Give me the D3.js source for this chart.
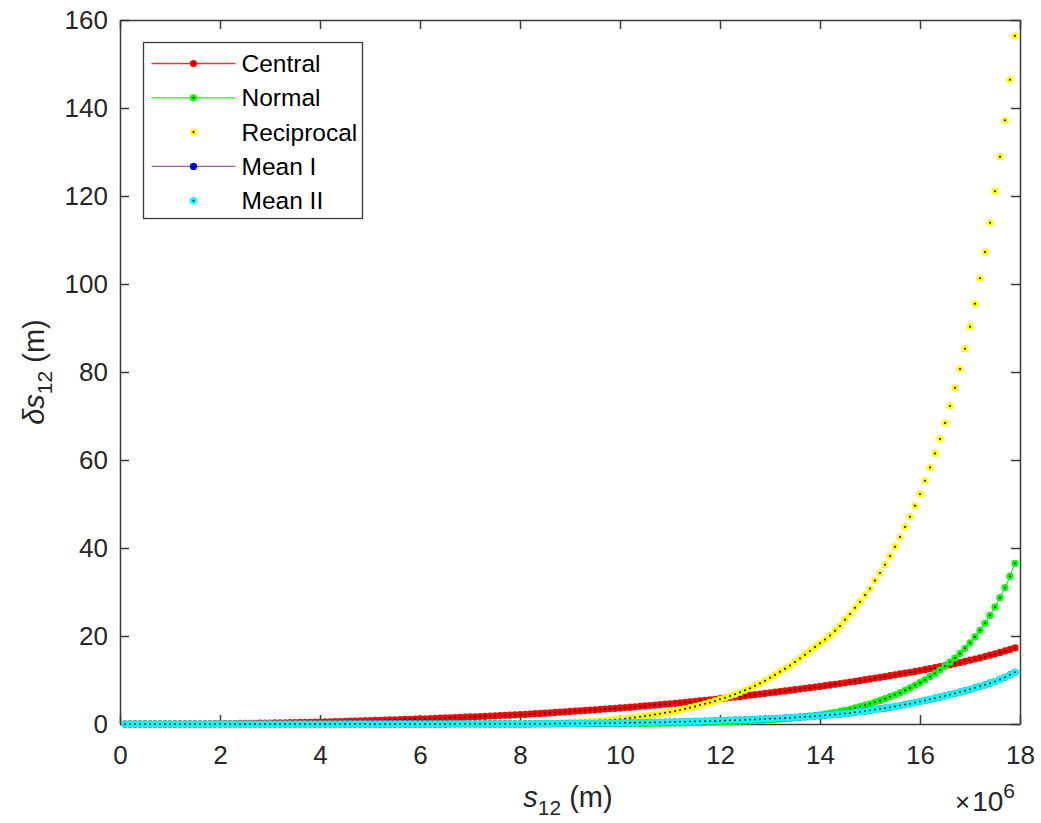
<!DOCTYPE html>
<html>
<head>
<meta charset="utf-8">
<script src="https://cdn.jsdelivr.net/npm/d3@7"></script>
<style>
  body { margin: 0; background: #fff; }
  svg { display: block; font-family: "Liberation Sans", Arial, sans-serif; }
</style>
</head>
<body>
<div id="chart"></div>
<script>
// sample positions s12, in units of 1e6 m (0.1 ... 17.9, step 0.1)
const s12 = d3.range(1, 180).map(i => i / 10);

// delta s12 (m); first row = 0.1..0.9, then one row per unit
const central = [
  0, 0, 0, 0, 0.01, 0.01, 0.01, 0.01, 0.02,
  0.02, 0.02, 0.03, 0.03, 0.03, 0.04, 0.04, 0.05, 0.06, 0.07,
  0.08, 0.09, 0.10, 0.11, 0.12, 0.13, 0.15, 0.17, 0.18, 0.20,
  0.22, 0.24, 0.26, 0.28, 0.30, 0.32, 0.35, 0.37, 0.40, 0.42,
  0.45, 0.48, 0.51, 0.54, 0.57, 0.61, 0.64, 0.68, 0.71, 0.75,
  0.78, 0.82, 0.85, 0.89, 0.92, 0.96, 1.00, 1.04, 1.07, 1.11,
  1.15, 1.19, 1.23, 1.28, 1.32, 1.37, 1.41, 1.46, 1.50, 1.55,
  1.60, 1.65, 1.70, 1.75, 1.81, 1.86, 1.92, 1.97, 2.03, 2.09,
  2.15, 2.21, 2.27, 2.34, 2.40, 2.47, 2.54, 2.62, 2.69, 2.77,
  2.85, 2.93, 3.00, 3.08, 3.16, 3.24, 3.32, 3.40, 3.48, 3.57,
  3.65, 3.74, 3.83, 3.92, 4.01, 4.10, 4.20, 4.30, 4.40, 4.50,
  4.60, 4.70, 4.81, 4.92, 5.03, 5.14, 5.26, 5.38, 5.50, 5.62,
  5.75, 5.88, 6.01, 6.14, 6.27, 6.41, 6.55, 6.69, 6.82, 6.96,
  7.10, 7.24, 7.38, 7.52, 7.67, 7.81, 7.95, 8.10, 8.25, 8.40,
  8.55, 8.71, 8.87, 9.03, 9.20, 9.37, 9.54, 9.71, 9.89, 10.07,
  10.25, 10.43, 10.61, 10.80, 10.99, 11.18, 11.37, 11.56, 11.76, 11.95,
  12.15, 12.36, 12.58, 12.80, 13.02, 13.25, 13.49, 13.73, 13.98, 14.24,
  14.50, 14.77, 15.05, 15.34, 15.64, 15.95, 16.27, 16.60, 16.95, 17.30
];

const normal = [
  0, 0, 0, 0, 0, 0, 0, 0, 0,
  0, 0, 0, 0, 0, 0, 0, 0, 0, 0,
  0, 0, 0, 0, 0, 0, 0, 0, 0, 0,
  0, 0, 0, 0, 0, 0, 0, 0, 0, 0,
  0, 0, 0, 0, 0, 0, 0, 0, 0, 0,
  0, 0, 0, 0, 0, 0, 0, 0, 0, 0,
  0, 0.01, 0.01, 0.01, 0.01, 0.01, 0.01, 0.01, 0.01, 0.01,
  0.01, 0.01, 0.01, 0.01, 0.01, 0.02, 0.02, 0.02, 0.02, 0.02,
  0.02, 0.02, 0.02, 0.03, 0.03, 0.03, 0.03, 0.03, 0.03, 0.04,
  0.04, 0.04, 0.05, 0.05, 0.05, 0.06, 0.06, 0.07, 0.07, 0.08,
  0.08, 0.09, 0.10, 0.11, 0.12, 0.13, 0.14, 0.15, 0.16, 0.17,
  0.18, 0.20, 0.22, 0.24, 0.26, 0.28, 0.31, 0.34, 0.37, 0.40,
  0.43, 0.47, 0.51, 0.55, 0.60, 0.65, 0.70, 0.76, 0.82, 0.89,
  0.96, 1.04, 1.12, 1.21, 1.31, 1.42, 1.53, 1.65, 1.78, 1.92,
  2.08, 2.26, 2.45, 2.65, 2.87, 3.10, 3.35, 3.65, 3.95, 4.27,
  4.60, 4.98, 5.35, 5.75, 6.20, 6.65, 7.13, 7.65, 8.20, 8.78,
  9.40, 10.05, 10.75, 11.50, 12.30, 13.15, 14.05, 15.00, 16.05, 17.20,
  18.45, 19.80, 21.30, 22.90, 24.70, 26.60, 28.70, 31.00, 33.60, 36.50
];

const reciprocal = [
  0, 0, 0, 0, 0, 0, 0, 0, 0,
  0, 0, 0, 0, 0, 0, 0, 0, 0, 0,
  0, 0, 0, 0, 0, 0, 0, 0, 0, 0,
  0, 0, 0, 0, 0, 0, 0, 0, 0, 0,
  0, 0, 0, 0, 0, 0, 0, 0, 0, 0,
  0, 0, 0, 0, 0, 0, 0, 0, 0, 0,
  0, 0, 0.01, 0.01, 0.01, 0.01, 0.01, 0.01, 0.02, 0.02,
  0.02, 0.02, 0.02, 0.03, 0.03, 0.04, 0.04, 0.05, 0.06, 0.07,
  0.08, 0.09, 0.10, 0.12, 0.14, 0.16, 0.19, 0.22, 0.25, 0.29,
  0.33, 0.38, 0.43, 0.49, 0.55, 0.62, 0.70, 0.79, 0.88, 0.98,
  1.09, 1.21, 1.34, 1.48, 1.63, 1.79, 1.96, 2.14, 2.33, 2.53,
  2.74, 2.96, 3.20, 3.45, 3.72, 4.00, 4.30, 4.60, 4.90, 5.25,
  5.60, 5.95, 6.35, 6.75, 7.20, 7.65, 8.15, 8.70, 9.25, 9.85,
  10.50, 11.15, 11.85, 12.55, 13.30, 14.10, 14.90, 15.75, 16.60, 17.50,
  18.35, 19.20, 20.10, 21.20, 22.30, 23.70, 25.00, 26.40, 27.80, 29.30,
  30.80, 32.60, 34.30, 36.20, 38.20, 40.30, 42.50, 44.80, 47.10, 49.60,
  52.30, 55.30, 58.30, 61.50, 64.80, 68.40, 72.30, 76.40, 80.70, 85.30,
  90.30, 95.50, 101.30, 107.30, 113.90, 121.10, 128.90, 137.20, 146.40, 156.40
];

const meanI = [
  0, 0, 0, 0, 0, 0, 0, 0, 0,
  0, 0, 0, 0, 0, 0, 0, 0, 0, 0,
  0, 0, 0, 0, 0, 0, 0, 0, 0, 0,
  0, 0, 0, 0, 0, 0, 0, 0, 0, 0,
  0, 0, 0, 0, 0, 0.01, 0.01, 0.01, 0.01, 0.01,
  0.01, 0.01, 0.01, 0.01, 0.01, 0.01, 0.02, 0.02, 0.02, 0.02,
  0.02, 0.02, 0.02, 0.02, 0.02, 0.02, 0.03, 0.03, 0.03, 0.03,
  0.03, 0.03, 0.03, 0.03, 0.04, 0.04, 0.04, 0.04, 0.04, 0.05,
  0.05, 0.05, 0.06, 0.06, 0.07, 0.08, 0.08, 0.09, 0.10, 0.11,
  0.12, 0.13, 0.14, 0.15, 0.16, 0.17, 0.18, 0.20, 0.21, 0.23,
  0.25, 0.27, 0.28, 0.30, 0.32, 0.34, 0.36, 0.38, 0.40, 0.42,
  0.45, 0.47, 0.50, 0.52, 0.55, 0.58, 0.61, 0.64, 0.68, 0.71,
  0.75, 0.79, 0.83, 0.87, 0.91, 0.95, 1.00, 1.05, 1.10, 1.15,
  1.20, 1.25, 1.31, 1.37, 1.43, 1.50, 1.57, 1.64, 1.72, 1.81,
  1.90, 1.99, 2.08, 2.18, 2.29, 2.40, 2.52, 2.65, 2.79, 2.94,
  3.10, 3.27, 3.44, 3.62, 3.81, 4.00, 4.20, 4.41, 4.63, 4.86,
  5.10, 5.35, 5.60, 5.86, 6.13, 6.40, 6.68, 6.97, 7.27, 7.58,
  7.90, 8.22, 8.56, 8.91, 9.27, 9.66, 10.12, 10.63, 11.17, 11.75
];
// Mean II sits exactly on top of Mean I in the figure
const meanII = meanI;

const xTicks = [0, 2, 4, 6, 8, 10, 12, 14, 16, 18];
const yTicks = [0, 20, 40, 60, 80, 100, 120, 140, 160];
const seriesNames = ["Central", "Normal", "Reciprocal", "Mean I", "Mean II"];

// Dimensions
const W = 1041, H = 823;
const plot = { left: 120, right: 1020, top: 20, bottom: 724 };
const axisColor = "#3a3a3a";
const textColor = "#262626";
const markerR = 3.6;

const svg = d3.select("#chart").append("svg")
    .attr("width", W)
    .attr("height", H);

const x = d3.scaleLinear().domain([0, 18]).range([plot.left, plot.right]);
const y = d3.scaleLinear().domain([0, 160]).range([plot.bottom, plot.top]);

// series styles: marker colour, line colour (null = markers only)
const series = [
    { name: seriesNames[0], values: central, color: "#ff0000", line: "#ff3030" },
    { name: seriesNames[1], values: normal, color: "#00ff00", line: "#22ee22" },
    { name: seriesNames[2], values: reciprocal, color: "#ffff00", line: null },
    { name: seriesNames[3], values: meanI, color: "#0000ff", line: "#9a62ad" },
    { name: seriesNames[4], values: meanII, color: "#00ffff", line: null }
];

// Axes (ticks point inwards, box on all four sides)
function styleAxis(g) {
    g.select(".domain").attr("stroke", axisColor).attr("stroke-width", 1.5);
    g.selectAll(".tick line").attr("stroke", axisColor).attr("stroke-width", 1.5);
    g.selectAll(".tick text")
        .attr("fill", textColor)
        .style("font-size", "26px")
        .style("font-family", "'Liberation Sans', Arial, sans-serif");
}

svg.append("g")
    .attr("transform", `translate(0,${plot.bottom})`)
    .call(d3.axisBottom(x).tickValues(xTicks).tickSize(-9).tickSizeOuter(0).tickPadding(22).tickFormat(d3.format("d")))
    .call(styleAxis);

svg.append("g")
    .attr("transform", `translate(0,${plot.top})`)
    .call(d3.axisTop(x).tickValues(xTicks).tickSize(-9).tickSizeOuter(0).tickFormat(""))
    .call(styleAxis);

svg.append("g")
    .attr("transform", `translate(${plot.left},0)`)
    .call(d3.axisLeft(y).tickValues(yTicks).tickSize(-9).tickSizeOuter(0).tickPadding(12).tickFormat(d3.format("d")))
    .call(styleAxis);

svg.append("g")
    .attr("transform", `translate(${plot.right},0)`)
    .call(d3.axisRight(y).tickValues(yTicks).tickSize(-9).tickSizeOuter(0).tickFormat(""))
    .call(styleAxis);

// Series
const line = d3.line()
    .x((d, i) => x(s12[i]))
    .y(d => y(d));

series.forEach(s => {
    const g = svg.append("g").attr("class", "series");
    if (s.line) {
        g.append("path")
            .attr("d", line(s.values))
            .attr("fill", "none")
            .attr("stroke", s.line)
            .attr("stroke-width", 1.2);
    }
    g.selectAll("circle.mk")
        .data(s.values)
        .join("circle")
        .attr("class", "mk")
        .attr("cx", (d, i) => x(s12[i]))
        .attr("cy", d => y(d))
        .attr("r", markerR)
        .attr("fill", s.color);
    g.selectAll("circle.ctr")
        .data(s.values)
        .join("circle")
        .attr("class", "ctr")
        .attr("cx", (d, i) => x(s12[i]))
        .attr("cy", d => y(d))
        .attr("r", 1)
        .attr("fill", "#000");
});

// Exponent label
const expo = svg.append("text")
    .attr("x", 955)
    .attr("y", 811)
    .attr("fill", textColor)
    .style("font-size", "28px");
expo.append("tspan").style("font-size", "26px").text("\u00d7");
expo.append("tspan").attr("dx", 2).text("10");
expo.append("tspan").attr("dy", -13).style("font-size", "21px").text("6");

// Axis labels
const xl = svg.append("text")
    .attr("x", 568)
    .attr("y", 807)
    .attr("text-anchor", "middle")
    .attr("fill", textColor)
    .style("font-size", "29px");
xl.append("tspan").style("font-style", "italic").text("s");
xl.append("tspan").attr("dy", 8).style("font-size", "21px").text("12");
xl.append("tspan").attr("dy", -8).text(" (m)");

const yl = svg.append("text")
    .attr("transform", "translate(44,372) rotate(-90)")
    .attr("text-anchor", "middle")
    .attr("fill", textColor)
    .style("font-size", "29px");
yl.append("tspan").style("font-style", "italic").text("\u03b4s");
yl.append("tspan").attr("dy", 8).style("font-size", "21px").text("12");
yl.append("tspan").attr("dy", -8).text(" (m)");

// Legend
const legend = svg.append("g").attr("transform", "translate(143.5,42.5)");
legend.append("rect")
    .attr("width", 219)
    .attr("height", 176)
    .attr("fill", "#fff")
    .attr("stroke", axisColor)
    .attr("stroke-width", 1.3);

const entry = legend.selectAll("g.entry")
    .data(series)
    .join("g")
    .attr("class", "entry")
    .attr("transform", (d, i) => `translate(0,${21 + i * 34.3})`);

entry.filter(d => d.line).append("line")
    .attr("x1", 8).attr("x2", 92)
    .attr("stroke", d => d.line)
    .attr("stroke-width", 1.3);
entry.append("circle").attr("cx", 50).attr("r", markerR).attr("fill", d => d.color);
entry.append("circle").attr("cx", 50).attr("r", 1).attr("fill", "#000");
entry.append("text")
    .attr("x", 98)
    .attr("dy", "0.35em")
    .attr("fill", "#000")
    .style("font-size", "24.5px")
    .text(d => d.name);
</script>
</body>
</html>
